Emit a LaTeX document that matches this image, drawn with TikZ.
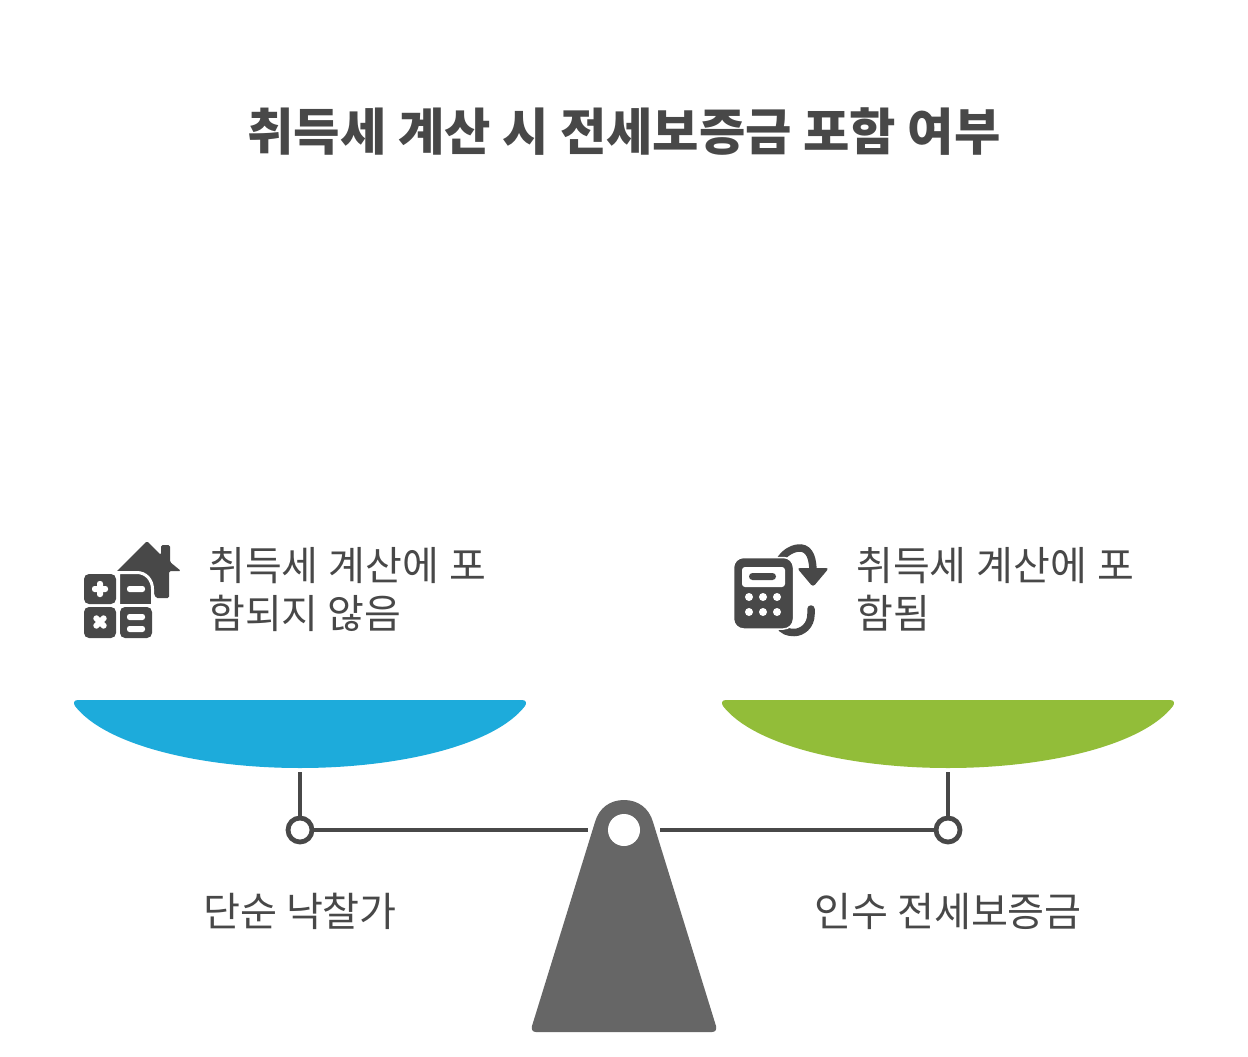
\documentclass[tikz,border=0pt]{standalone}
\usepackage{fontspec}
\setmainfont{Noto Sans CJK KR}
\definecolor{ink}{HTML}{484848}
\definecolor{foot}{HTML}{666666}
\definecolor{skyblue}{HTML}{1DABDB}
\definecolor{leaf}{HTML}{92BD39}
\tikzset{
  x=1pt,y=-1pt,
  titletext/.style={font=\fontsize{50.4}{60}\selectfont\bfseries,text=ink,inner sep=0pt},
  bodytext/.style={font=\fontsize{40}{48}\selectfont,text=ink,inner sep=0pt,align=left,anchor=west},
  labeltext/.style={font=\fontsize{40.2}{48}\selectfont,text=ink,inner sep=0pt},
  beam/.style={draw=ink,line width=4.8pt},
  pivot/.style={circle,draw=ink,line width=4.8pt,fill=white,minimum size=24pt,inner sep=0pt},
  iconfill/.style={fill=ink,draw=none},
  marks/.style={fill=white,draw=none,rounded corners=2.5pt},
  sweep/.style={draw=ink,line width=7.5pt,line cap=round}
}
\begin{document}
\begin{tikzpicture}
\useasboundingbox (0,0) rectangle (1248,1057);
\fill[white] (0,0) rectangle (1248,1057);
\node[titletext] (title) at (624,131.5) {취득세 계산 시 전세보증금 포함 여부};
\node[bodytext] (lefttext) at (208,589.5) {\spaceskip=0.26em 취득세 계산에 포\\함되지 않음};
\node[bodytext] (righttext) at (856,589.5) {\spaceskip=0.26em 취득세 계산에 포\\함됨};
\node[labeltext] (leftlabel) at (300,911.5) {단순 낙찰가};
\node[labeltext] (rightlabel) at (948,911.5) {인수 전세보증금};
% pans
\fill[skyblue] (78,700) -- (522,700) .. controls (526,700) and (527,703) .. (525,706) .. controls (495,745) and (400,768) .. (300,768) .. controls (200,768) and (105,745) .. (75,706) .. controls (73,703) and (74,700) .. (78,700) -- cycle;
\fill[leaf] (726,700) -- (1170,700) .. controls (1174,700) and (1175,703) .. (1173,706) .. controls (1143,745) and (1048,768) .. (948,768) .. controls (848,768) and (753,745) .. (723,706) .. controls (721,703) and (722,700) .. (726,700) -- cycle;
% connectors
\node[pivot] (leftpivot) at (300,830) {};
\node[pivot] (rightpivot) at (948,830) {};
\coordinate (lefthang) at (300,772);
\coordinate (righthang) at (948,772);
\coordinate (leftbeam) at (588,830);
\coordinate (rightbeam) at (660,830);
\draw[beam] (lefthang) -- (leftpivot);
\draw[beam] (righthang) -- (rightpivot);
\draw[beam] (leftpivot) -- (leftbeam);
\draw[beam] (rightpivot) -- (rightbeam);
% fulcrum
\fill[foot] (595,822) .. controls (599,808) and (610,800) .. (624,800) .. controls (638,800) and (649,808) .. (653,822) -- (716,1026) .. controls (717,1030) and (715,1032) .. (712,1032) -- (536,1032) .. controls (533,1032) and (531,1030) .. (532,1026) -- cycle;
\fill[white] (624,830) circle[radius=16];
% icon left: house
\fill[iconfill,rounded corners=1.5pt] (116,572) -- (147,541) -- (161,555) -- (161,545) -- (170,545) -- (170,562) -- (181,571) -- (169,571) -- (169,598) -- (156,598) -- (148,580) -- (130,572) -- cycle;
\fill[iconfill,draw=white,line width=3pt] (118.5,572.5) -- (137,572.5) .. controls (146,572.5) and (152.5,580) .. (152.5,589) -- (152.5,605.5) -- (118.5,605.5) -- cycle;
\fill[iconfill,rounded corners=5pt] (84,574) rectangle (116,604);
\fill[iconfill,rounded corners=5pt] (84,607) rectangle (116,638);
\fill[iconfill,rounded corners=5pt] (120,607) rectangle (152,638);
\fill[marks] (97,581) rectangle (103,597);
\fill[marks] (92,586) rectangle (108,592);
\fill[marks] (127,586) rectangle (145,592);
\fill[marks] (127,614) rectangle (145,620);
\fill[marks] (127,626) rectangle (145,632);
\begin{scope}[shift={(100,622)},rotate=45]
\fill[marks] (-8,-3) rectangle (8,3);
\fill[marks] (-3,-8) rectangle (3,8);
\end{scope}
% icon right: sweeps
\draw[sweep] (779,562) .. controls (784,552) and (794,547.5) .. (801,548) .. controls (810,549) and (813,559) .. (813,572);
\fill[iconfill,rounded corners=3pt] (797,568) -- (829,568) -- (813,587) -- cycle;
\draw[sweep] (811,609) -- (811,614) .. controls (811,626) and (802,632.5) .. (794,632.5) .. controls (788,632.5) and (783,631) .. (779,625);
\fill[iconfill,draw=white,line width=1.5pt,rounded corners=10pt] (733.5,557.5) rectangle (793.5,629);
\fill[white,rounded corners=3pt] (742,567) rectangle (785,587);
\fill[iconfill,rounded corners=3.5pt] (749,573) rectangle (776,580);
\foreach \cx in {749,763,777}{\foreach \cy in {597,612}{\fill[white] (\cx,\cy) circle[radius=4];}}
\end{tikzpicture}
\end{document}
